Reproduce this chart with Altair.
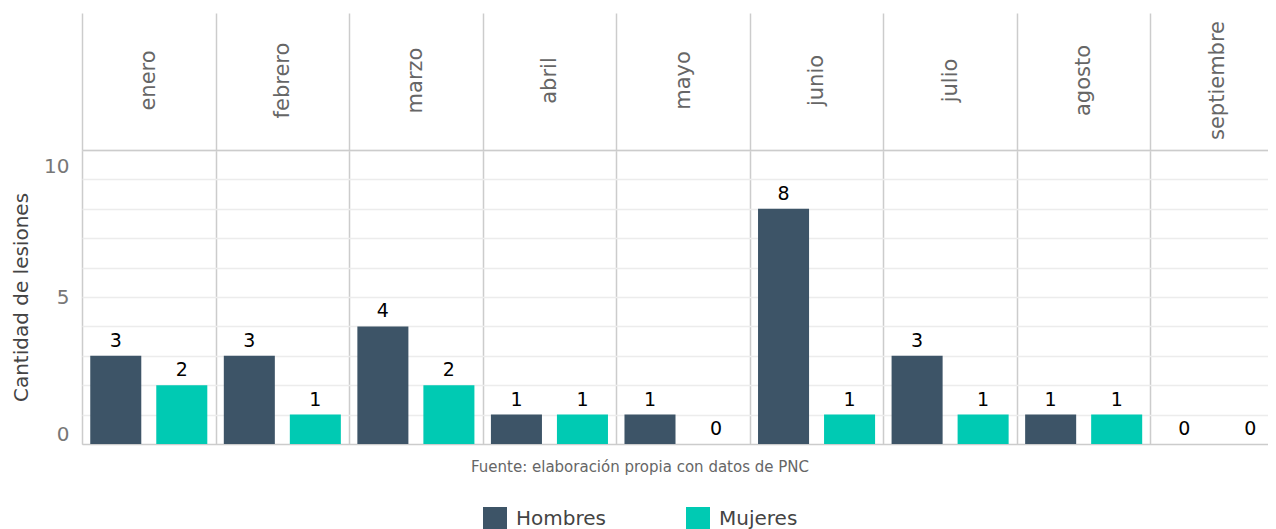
import altair as alt
import pandas as pd

months = ["enero", "febrero", "marzo", "abril", "mayo", "junio", "julio", "agosto", "septiembre"]
hombres = [3, 3, 4, 1, 1, 8, 3, 1, 0]
mujeres = [2, 1, 2, 1, 0, 1, 1, 1, 0]
series = ["Hombres", "Mujeres"]
colors = ["#3d5467", "#00cab3"]
source_note = ["Fuente: elaboración propia con datos de PNC"]
y_title = "Cantidad de lesiones"
y_ticks = [0, 1, 2, 3, 4, 5, 6, 7, 8, 9, 10]

rows = []
for m, h, w in zip(months, hombres, mujeres):
    rows.append({"Mes": m, "Sexo": series[0], "Cantidad": h})
    rows.append({"Mes": m, "Sexo": series[1], "Cantidad": w})
df = pd.DataFrame(rows)

FONT = "DejaVu Sans"
PLOT_W = 1186      # visible plot width (svg fits 1260 px)
BAND_RANGE = 1202  # full width of the 9 month bands (last one runs past the edge)

x_enc = alt.X(
    "Mes:N",
    sort=months,
    scale=alt.Scale(paddingInner=0, paddingOuter=0, range=[0, BAND_RANGE]),
    axis=alt.Axis(
        orient="top",
        title=None,
        tickBand="extent",
        ticks=True,
        tickSize=137,
        tickColor="#cccccc",
        tickWidth=1.5,
        grid=True,
        gridColor="#cccccc",
        gridWidth=1.5,
        domain=True,
        domainColor="#cccccc",
        domainWidth=1.5,
        labelAngle=-90,
        labelAlign="center",
        labelBaseline="middle",
        labelPadding=-67,
        labelFontSize=21,
        labelColor="#666666",
        labelFont=FONT,
    ),
)
xo_enc = alt.XOffset(
    "Sexo:N",
    sort=series,
    scale=alt.Scale(paddingInner=0.227, paddingOuter=0.125),
)
y_enc = alt.Y(
    "Cantidad:Q",
    scale=alt.Scale(domain=[0, 10], nice=False),
    axis=alt.Axis(
        values=y_ticks,
        labelExpr="datum.value % 5 === 0 ? datum.label : ''",
        labelFlush=True,
        labelOffset=alt.condition("datum.value === 10", alt.value(6), alt.value(0)),
        ticks=False,
        domain=False,
        grid=True,
        gridColor=alt.condition("datum.value === 0", alt.value("#cccccc"), alt.value("#ececec")),
        gridWidth=1.5,
        labelFontSize=20,
        labelColor="#777777",
        labelPadding=13,
        labelFont=FONT,
        title=y_title,
        titleFontSize=20,
        titleFontWeight="normal",
        titleColor="#444444",
        titlePadding=12,
        titleFont=FONT,
    ),
)

bars = alt.Chart(df).mark_bar().encode(
    x=x_enc,
    xOffset=xo_enc,
    y=y_enc,
    color=alt.Color(
        "Sexo:N",
        sort=series,
        scale=alt.Scale(domain=series, range=colors),
        legend=alt.Legend(
            title=None,
            orient="none",
            direction="horizontal",
            legendX=401,
            legendY=357,
            symbolType="square",
            symbolSize=576,
            symbolStrokeWidth=0,
            symbolOpacity=1,
            labelFontSize=20,
            labelColor="#444444",
            labelFont=FONT,
            labelOffset=9,
            columnPadding=80,
        ),
    ),
)

labels = alt.Chart(df).mark_text(
    dy=-15, baseline="middle", fontSize=19, color="#000000", font=FONT
).encode(
    x=x_enc,
    xOffset=xo_enc,
    y=y_enc,
    text=alt.Text("Cantidad:Q"),
)

note = alt.Chart(pd.DataFrame({"nota": source_note})).mark_text(
    fontSize=15, color="#666666", font=FONT, align="center", baseline="middle"
).encode(
    x=alt.value(558),
    y=alt.value(317),
    text="nota:N",
)

chart = (
    alt.layer(bars, labels, note)
    .properties(
        width=PLOT_W,
        height=294,
        autosize=alt.AutoSizeParams(type="none"),
        padding={"left": 74, "top": 142, "right": 0, "bottom": 85},
    )
    .configure_view(stroke=None)
    .configure(font=FONT)
)

chart.save("out.html", embed_options={"renderer": "svg", "actions": False})
